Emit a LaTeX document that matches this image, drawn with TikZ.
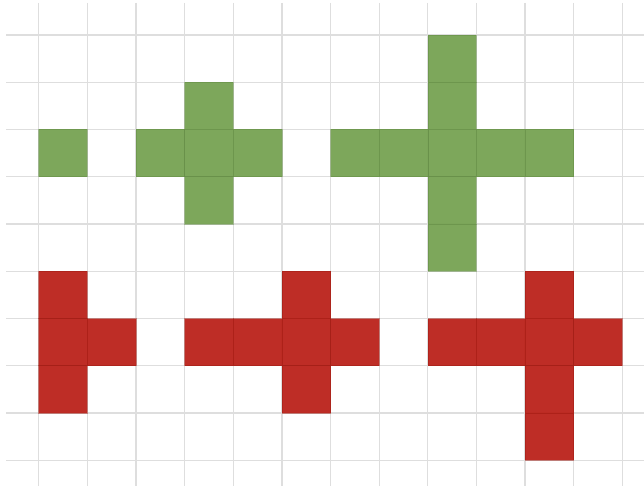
\documentclass[tikz,border=0pt]{standalone}
\begin{document}
\begin{tikzpicture}[x=1pt,y=-1pt,
  gridline/.style={draw={rgb,255:red,222;green,222;blue,222},line width=1.3pt},
  gcell/.style={fill={rgb,255:red,118;green,162;blue,82},fill opacity=0.95,draw={rgb,255:red,100;green,140;blue,70},draw opacity=0.5,line width=0.6pt},
  rcell/.style={fill={rgb,255:red,187;green,34;blue,26},fill opacity=0.95,draw={rgb,255:red,160;green,30;blue,22},draw opacity=0.5,line width=0.6pt}]
\useasboundingbox (0,0) rectangle (644,486);
\def\gx{48.65}\def\gy{47.25}\def\ox{38.6}\def\oy{35}
\foreach \i in {0,...,12} \draw[gridline] ({\ox+\gx*\i},3) -- ({\ox+\gx*\i},486);
\foreach \j in {0,...,9} \draw[gridline] (6,{\oy+\gy*\j}) -- (644,{\oy+\gy*\j});
% green cells
\foreach \c/\r in {0/2, 3/1,2/2,3/2,4/2,3/3, 8/0,8/1,8/2,8/3,8/4,6/2,7/2,9/2,10/2}
  \path[gcell] ({\ox+\gx*\c},{\oy+\gy*\r}) rectangle ({\ox+\gx*(\c+1)},{\oy+\gy*(\r+1)});
% red cells
\foreach \c/\r in {0/5,0/6,0/7,1/6, 3/6,4/6,5/6,6/6,5/5,5/7, 8/6,9/6,10/6,11/6,10/5,10/7,10/8}
  \path[rcell] ({\ox+\gx*\c},{\oy+\gy*\r}) rectangle ({\ox+\gx*(\c+1)},{\oy+\gy*(\r+1)});
\end{tikzpicture}
\end{document}
